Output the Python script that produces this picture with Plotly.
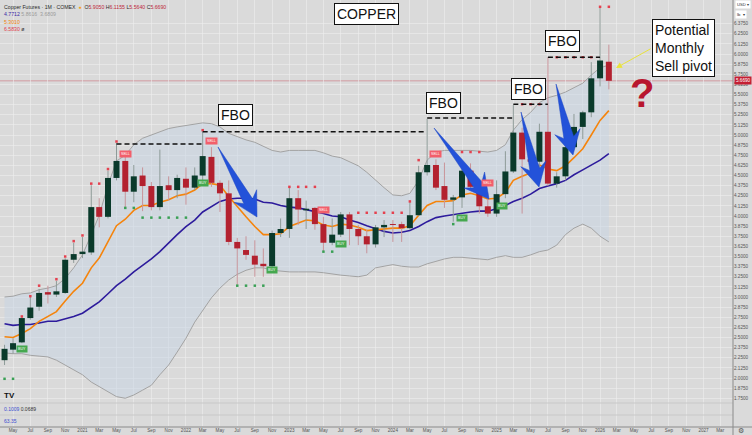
import math
import pandas as pd
import plotly.graph_objects as go

# ---------------- data (monthly COMEX copper) ----------------
months = pd.date_range("2020-04-01", "2026-02-01", freq="MS")

opens = [2.22, 2.35, 2.44, 2.74, 2.88, 3.06, 3.03, 3.05, 3.46,
         3.53, 3.55, 4.11, 3.99, 4.47, 4.68, 4.30, 4.50, 4.37, 4.11, 4.38, 4.32,
         4.46, 4.35, 4.50, 4.73, 4.41, 4.28, 3.68, 3.58, 3.51, 3.41, 3.38, 3.79,
         3.84, 4.22, 4.07, 4.10, 3.90, 3.67, 3.77, 4.02, 3.84, 3.75, 3.65, 3.86,
         3.90, 3.90, 3.85, 4.01, 4.54, 4.63, 4.37, 4.20, 4.23, 4.56, 4.36, 4.12,
         4.03, 4.27, 4.55, 5.03, 4.70, 4.67, 5.04, 4.40, 4.49, 4.85, 5.10, 5.28,
         5.70, 5.905]
highs = [2.41, 2.49, 2.75, 3.00, 3.10, 3.14, 3.20, 3.48, 3.67,
         3.74, 4.38, 4.22, 4.56, 4.90, 4.73, 4.63, 4.60, 4.42, 4.82, 4.49, 4.51,
         4.60, 4.60, 5.04, 4.85, 4.44, 4.44, 3.73, 3.75, 3.70, 3.60, 3.82, 3.97,
         4.37, 4.32, 4.19, 4.11, 3.99, 3.97, 4.05, 4.05, 3.89, 3.83, 3.89, 3.95,
         3.95, 3.93, 4.17, 4.62, 5.20, 4.70, 4.66, 4.26, 4.60, 4.65, 4.42, 4.29,
         4.44, 4.80, 5.37, 5.09, 4.90, 5.14, 5.96, 4.54, 4.98, 5.26, 5.30, 5.90,
         6.583, 6.1155]
lows = [2.16, 2.30, 2.43, 2.72, 2.83, 2.92, 3.00, 3.04, 3.42,
        3.48, 3.52, 3.86, 3.97, 4.44, 4.10, 4.17, 4.06, 4.07, 4.07, 4.19, 4.22,
        4.14, 4.32, 4.41, 4.36, 4.05, 3.64, 3.15, 3.46, 3.25, 3.25, 3.35, 3.74,
        3.73, 3.89, 3.84, 3.83, 3.56, 3.64, 3.74, 3.64, 3.64, 3.54, 3.61, 3.74,
        3.68, 3.68, 3.83, 4.00, 4.50, 4.32, 4.10, 3.93, 4.10, 4.33, 4.03, 3.99,
        3.99, 4.22, 4.53, 4.03, 4.55, 4.57, 4.37, 4.35, 4.44, 4.82, 4.95, 5.22,
        5.60, 5.564]
closes = [2.36, 2.43, 2.74, 2.87, 3.05, 3.03, 3.07, 3.46, 3.53,
          3.56, 4.11, 3.99, 4.47, 4.68, 4.30, 4.49, 4.37, 4.11, 4.37, 4.32, 4.47,
          4.35, 4.50, 4.74, 4.41, 4.28, 3.68, 3.60, 3.52, 3.40, 3.38, 3.79, 3.84,
          4.22, 4.08, 4.09, 3.90, 3.67, 3.77, 4.02, 3.84, 3.75, 3.65, 3.86, 3.89,
          3.89, 3.85, 4.01, 4.54, 4.63, 4.35, 4.20, 4.23, 4.56, 4.36, 4.12, 4.03,
          4.27, 4.55, 5.03, 4.70, 4.67, 5.04, 4.40, 4.49, 4.85, 5.10, 5.28, 5.70,
          5.92, 5.669]

# Bollinger basis (purple), bands (grey) and fast average (orange)
bb_basis = [2.67, 2.65, 2.66, 2.66, 2.68, 2.70, 2.70, 2.73, 2.76,
            2.80, 2.87, 2.94, 3.04, 3.14, 3.22, 3.31, 3.39, 3.47, 3.56, 3.67, 3.77,
            3.87, 3.95, 4.05, 4.12, 4.18, 4.21, 4.22, 4.22, 4.21, 4.17, 4.16, 4.13,
            4.11, 4.10, 4.08, 4.05, 4.03, 4.00, 3.99, 3.95, 3.92, 3.88, 3.84, 3.81,
            3.79, 3.80, 3.82, 3.87, 3.93, 3.98, 4.00, 4.02, 4.04, 4.05, 4.06, 4.06,
            4.09, 4.13, 4.18, 4.22, 4.27, 4.34, 4.37, 4.40, 4.44, 4.51, 4.57, 4.63,
            4.69, 4.77]
bb_upper = [3.00, 3.01, 3.04, 3.05, 3.09, 3.11, 3.14, 3.23, 3.36,
            3.52, 3.77, 4.01, 4.38, 4.68, 4.75, 4.88, 4.96, 5.00, 5.04, 5.08, 5.10,
            5.12, 5.14, 5.15, 5.14, 5.10, 5.02, 4.98, 4.94, 4.91, 4.86, 4.81, 4.79,
            4.81, 4.81, 4.81, 4.81, 4.78, 4.74, 4.72, 4.67, 4.62, 4.54, 4.44, 4.35,
            4.26, 4.25, 4.28, 4.44, 4.69, 4.79, 4.81, 4.81, 4.81, 4.81, 4.80, 4.79,
            4.81, 4.88, 5.06, 5.19, 5.28, 5.40, 5.46, 5.49, 5.53, 5.58, 5.64, 5.74,
            5.83, 5.8616]
bb_lower = [2.31, 2.30, 2.30, 2.28, 2.27, 2.26, 2.22, 2.16, 2.10,
            2.04, 1.95, 1.89, 1.83, 1.77, 1.75, 1.79, 1.85, 1.91, 2.04, 2.16, 2.32,
            2.49, 2.69, 2.84, 2.99, 3.11, 3.21, 3.28, 3.33, 3.36, 3.36, 3.33, 3.32,
            3.31, 3.31, 3.31, 3.31, 3.30, 3.28, 3.27, 3.26, 3.25, 3.27, 3.36, 3.38,
            3.40, 3.38, 3.37, 3.37, 3.41, 3.44, 3.47, 3.49, 3.49, 3.48, 3.47, 3.46,
            3.49, 3.51, 3.49, 3.49, 3.52, 3.56, 3.58, 3.64, 3.77, 3.85, 3.90, 3.85,
            3.75, 3.6809]
ema_fast = [2.51, 2.50, 2.55, 2.61, 2.70, 2.76, 2.82, 2.95, 3.07,
            3.17, 3.36, 3.48, 3.68, 3.88, 3.96, 4.07, 4.13, 4.13, 4.17, 4.20, 4.25,
            4.27, 4.32, 4.40, 4.40, 4.38, 4.24, 4.11, 3.99, 3.87, 3.77, 3.77, 3.78,
            3.87, 3.91, 3.95, 3.94, 3.89, 3.87, 3.90, 3.89, 3.86, 3.82, 3.83, 3.84,
            3.85, 3.85, 3.88, 4.01, 4.13, 4.18, 4.18, 4.19, 4.26, 4.28, 4.25, 4.21,
            4.22, 4.29, 4.44, 4.49, 4.53, 4.63, 4.58, 4.56, 4.62, 4.72, 4.83, 5.00,
            5.18, 5.301]

# resistance (red) / support (green) dots
red_dot_months = ["2020-06", "2020-07", "2020-08", "2020-10", "2020-11", "2020-12", "2021-01",
                  "2021-02", "2021-03", "2021-04", "2021-05", "2022-03",
                  "2023-01", "2023-02", "2023-03", "2023-04",
                  "2023-09", "2023-10", "2023-11", "2023-12", "2024-01", "2024-02",
                  "2024-03", "2024-04", "2024-09", "2024-10", "2024-11",
                  "2025-04", "2025-05", "2025-06",
                  "2025-08", "2025-09", "2025-10", "2025-11", "2025-12", "2026-01", "2026-02"]
red_dot_prices = [2.76, 3.01, 3.14, 3.22, 3.50, 3.69, 3.76,
                  4.40, 4.40, 4.58, 4.92, 5.06,
                  4.36, 4.36, 4.36, 4.36,
                  4.04, 4.04, 4.04, 4.04, 4.04, 4.04,
                  4.18, 4.69, 4.79, 4.79, 4.79,
                  5.38, 5.38, 5.38,
                  5.96, 5.96, 5.96, 5.96, 5.96, 6.583, 6.583]
green_dot_months = ["2020-04", "2020-05", "2021-06", "2021-07", "2021-08", "2021-09", "2021-10",
                    "2021-11", "2021-12", "2022-01", "2022-07", "2022-08", "2022-09", "2022-10",
                    "2023-05", "2023-06", "2024-08"]
green_dot_prices = [1.99, 1.99, 4.10, 4.10, 3.98, 3.98, 3.98,
                    3.98, 3.98, 3.98, 3.14, 3.14, 3.14, 3.14,
                    3.56, 3.56, 3.90]

# BUY / SELL signal badges
signal_kind = ["BUY", "SELL", "BUY", "SELL", "BUY", "SELL", "BUY", "SELL", "BUY", "SELL", "BUY"]
signal_month = ["2020-06-01", "2021-06-01", "2022-03-01", "2022-04-01", "2022-11-01", "2023-05-01",
                "2023-07-01", "2024-06-01", "2024-09-01", "2024-12-01", "2025-01-20"]
signal_price = [2.36, 4.77, 4.41, 4.93, 3.33, 4.08, 3.66, 4.77, 3.98, 4.41, 4.12]

# False-breakout levels (drawn dashed)
fbo_start = ["2021-05-01", "2022-03-01", "2024-05-01", "2025-03-01", "2025-07-01"]
fbo_end = ["2022-03-01", "2024-04-20", "2025-03-01", "2025-07-01", "2026-01-01"]
fbo_level = [4.89, 5.04, 5.21, 5.38, 5.96]

price_ticks = [1.75 + 0.125 * i for i in range(38)]
tick_dates = pd.date_range("2020-05-01", "2027-03-01", freq="2MS")
tick_text = ["May", "Jul", "Sep", "Nov", "2021", "Mar", "May", "Jul", "Sep", "Nov",
             "2022", "Mar", "May", "Jul", "Sep", "Nov", "2023", "Mar", "May", "Jul", "Sep", "Nov",
             "2024", "Mar", "May", "Jul", "Sep", "Nov", "2025", "Mar", "May", "Jul", "Sep", "Nov",
             "2026", "Mar", "May", "Jul", "Sep", "Nov", "2027", "Mar"]

last_price = 5.669

# ---------------- layout helpers ----------------
W, H = 752, 435
ML, MR, MT, MB = 0, 19, 0, 9
PW, PH = W - ML - MR, H - MT - MB
Y_TOP = 6.667
Y_BOT = 6.0 - (PH - 54) / 81.0


def px(x):
    return x / PW


def py(y):
    return 1 - y / PH


UP = "#0a3a2b"
DOWN = "#b3212f"
BG = "#dadada"
lf = "Liberation Sans"

fig = go.Figure()

# Bollinger band fill
fig.add_trace(go.Scatter(x=months, y=bb_upper, mode="lines",
                         line=dict(color="#a3a3a3", width=1), hoverinfo="skip"))
fig.add_trace(go.Scatter(x=months, y=bb_lower, mode="lines",
                         line=dict(color="#a3a3a3", width=1), fill="tonexty",
                         fillcolor="rgba(200,214,228,0.55)", hoverinfo="skip"))
fig.add_trace(go.Scatter(x=months, y=bb_basis, mode="lines",
                         line=dict(color="#2d1b9c", width=1.6), hoverinfo="skip"))
fig.add_trace(go.Scatter(x=months, y=ema_fast, mode="lines",
                         line=dict(color="#f5840c", width=1.6), hoverinfo="skip"))

# candles: wick (high-low) then body (open-close) as line segments, per direction
for up in (True, False):
    wx, wy, bx, by = [], [], [], []
    for m, o, h, l, c in zip(months, opens, highs, lows, closes):
        if (c >= o) == up:
            wx += [m, m, None]
            wy += [l, h, None]
            lo_b, hi_b = min(o, c), max(o, c)
            if hi_b - lo_b < 0.012:
                mid = (hi_b + lo_b) / 2
                lo_b, hi_b = mid - 0.006, mid + 0.006
            bx += [m, m, None]
            by += [lo_b, hi_b, None]
    fig.add_trace(go.Scatter(x=wx, y=wy, mode="lines", hoverinfo="skip",
                             line=dict(color="#8e9b98" if up else "#c8949a", width=1)))
    fig.add_trace(go.Scatter(x=bx, y=by, mode="lines", hoverinfo="skip",
                             line=dict(color=UP if up else DOWN, width=6)))

fig.add_trace(go.Scatter(x=[m + "-01" for m in red_dot_months], y=red_dot_prices, mode="markers",
                         marker=dict(symbol="square", size=2.5, color="#e5414f"), hoverinfo="skip"))
fig.add_trace(go.Scatter(x=[m + "-01" for m in green_dot_months], y=green_dot_prices, mode="markers",
                         marker=dict(symbol="square", size=2.5, color="#3aa055"), hoverinfo="skip"))

shapes = []
annotations = []

# last price line
shapes.append(dict(type="line", xref="paper", yref="y", x0=0, x1=1, y0=last_price, y1=last_price,
                   line=dict(color="rgba(205,80,95,0.45)", width=1), layer="below"))

# FBO dashed levels
for s, e, lv in zip(fbo_start, fbo_end, fbo_level):
    shapes.append(dict(type="line", xref="x", yref="y", x0=s, x1=e, y0=lv, y1=lv,
                       line=dict(color="#111111", width=1.6, dash="5px,3px")))


# blue arrows (drawings)
def arrow_path(x0, y0, x1, y1, shaft=10, head=26, headlen=24):
    dx, dy = x1 - x0, y1 - y0
    L = math.hypot(dx, dy)
    ux, uy = dx / L, dy / L
    nx, ny = -uy, ux
    bx, by = x1 - ux * headlen, y1 - uy * headlen
    sx, sy = bx + ux * 6, by + uy * 6
    pts = [(x0, y0),
           (sx + nx * shaft / 2, sy + ny * shaft / 2),
           (bx + nx * head / 2, by + ny * head / 2),
           (x1, y1),
           (bx - nx * head / 2, by - ny * head / 2),
           (sx - nx * shaft / 2, sy - ny * shaft / 2)]
    return "M " + " L ".join(f"{px(a):.5f},{py(b):.5f}" for a, b in pts) + " Z"


for (a, b, c, d) in [(218, 147, 257, 217), (434, 128, 489, 199), (521, 112, 539, 187), (556, 84, 573, 155)]:
    shapes.append(dict(type="path", xref="paper", yref="paper", path=arrow_path(a, b, c, d),
                       fillcolor="#2352d9", line=dict(color="#1c46c4", width=0.5)))

# pane separators (collapsed indicator panes) and bottom axis border
for yy in [403, 415]:
    shapes.append(dict(type="line", xref="paper", yref="paper", x0=0, x1=1, y0=py(yy), y1=py(yy),
                       line=dict(color="#c8c8c8", width=1)))
shapes.append(dict(type="line", xref="paper", yref="paper", x0=0, x1=1 + 19 / PW, y0=py(427), y1=py(427),
                   line=dict(color="#8a8a8a", width=1)))
shapes.append(dict(type="line", xref="paper", yref="paper", x0=1, x1=1, y0=py(435), y1=1,
                   line=dict(color="#8a8a8a", width=1)))

# signal badges
for k, m, p in zip(signal_kind, signal_month, signal_price):
    annotations.append(dict(x=m, y=p, xref="x", yref="y", text=k, showarrow=False,
                            font=dict(size=3.6, color="white", family=lf),
                            bgcolor="#f25f6b" if k == "SELL" else "#45a84f", borderpad=1))


def box(text, x, y, size=14, align="center"):
    annotations.append(dict(x=px(x), y=py(y), xref="paper", yref="paper", text=text, showarrow=False,
                            font=dict(size=size, color="#111111", family=lf),
                            bgcolor="white", bordercolor="#111111", borderwidth=1, borderpad=2,
                            align=align, xanchor="center", yanchor="middle"))


box("COPPER", 366, 14)
box("FBO", 235, 115)
box("FBO", 443, 103)
box("FBO", 528, 89)
box("FBO", 562, 41)
box("Potential<br>Monthly<br>Sell pivot", 683, 48, size=14, align="left")

annotations.append(dict(x=px(642), y=py(93), xref="paper", yref="paper", text="<b>?</b>", showarrow=False,
                        font=dict(size=40, color="#b8162e", family=lf),
                        xanchor="center", yanchor="middle"))
# yellow pointer arrow
annotations.append(dict(x=px(616), y=py(68), xref="paper", yref="paper", text="", showarrow=True,
                        ax=36, ay=-20, arrowhead=2, arrowsize=1.2, arrowwidth=1,
                        arrowcolor="#e9e23c"))

# legend lines (top-left)
annotations.append(dict(x=px(2), y=py(7), xref="paper", yref="paper", showarrow=False,
                        xanchor="left", yanchor="middle", font=dict(size=5.2, family=lf, color="#2a2a2a"),
                        text="Copper Futures · 1M · COMEX  <span style='color:#f5a31a'>●</span>  "
                             "O<span style='color:#c0283a'>5.9050</span> H<span style='color:#c0283a'>6.1155</span> "
                             "L<span style='color:#c0283a'>5.5640</span> C<span style='color:#c0283a'>5.6690</span>"))
annotations.append(dict(x=px(2), y=py(14.5), xref="paper", yref="paper", showarrow=False,
                        xanchor="left", yanchor="middle", font=dict(size=5.2, family=lf, color="#3b2aa6"),
                        text="4.7712 <span style='color:#9a9a9a'>5.8616  3.6809</span>"))
annotations.append(dict(x=px(2), y=py(21.5), xref="paper", yref="paper", showarrow=False,
                        xanchor="left", yanchor="middle", font=dict(size=5.2, family=lf, color="#f0820c"),
                        text="5.3010"))
annotations.append(dict(x=px(2), y=py(29), xref="paper", yref="paper", showarrow=False,
                        xanchor="left", yanchor="middle", font=dict(size=5.2, family=lf, color="#e0404e"),
                        text="6.5830 <span style='color:#333'>ø</span>"))
# collapsed panes values
annotations.append(dict(x=px(2), y=py(409), xref="paper", yref="paper", showarrow=False,
                        xanchor="left", yanchor="middle", font=dict(size=5, family=lf, color="#3d4fd0"),
                        text="0.1009 <span style='color:#333'>0.0689</span>"))
annotations.append(dict(x=px(2), y=py(421), xref="paper", yref="paper", showarrow=False,
                        xanchor="left", yanchor="middle", font=dict(size=5, family=lf, color="#3d4fd0"),
                        text="63.35"))
annotations.append(dict(x=px(9), y=py(395), xref="paper", yref="paper", showarrow=False,
                        xanchor="center", yanchor="middle", font=dict(size=8, family=lf, color="#111"),
                        text="<b>TV</b>"))
# price scale: last price tag and unit selectors
annotations.append(dict(x=1.002, y=last_price, xref="paper", yref="y", showarrow=False,
                        xanchor="left", yanchor="middle", font=dict(size=4.6, family=lf, color="white"),
                        text="5.6690", bgcolor="#c41f33", borderpad=1))
annotations.append(dict(x=1.003, y=py(5), xref="paper", yref="paper", showarrow=False,
                        xanchor="left", yanchor="middle", font=dict(size=4.2, family=lf, color="#333"),
                        text="USD ▾", bgcolor="white", borderpad=1))
annotations.append(dict(x=1.003, y=py(14.5), xref="paper", yref="paper", showarrow=False,
                        xanchor="left", yanchor="middle", font=dict(size=4.2, family=lf, color="#333"),
                        text="lb  ▾", bgcolor="white", borderpad=1))
annotations.append(dict(x=1.004, y=py(431), xref="paper", yref="paper", showarrow=False,
                        xanchor="left", yanchor="middle", font=dict(size=7, family="DejaVu Sans", color="#555"),
                        text="⚙"))

fig.update_layout(
    width=W, height=H,
    margin=dict(l=ML, r=MR, t=MT, b=MB),
    paper_bgcolor=BG, plot_bgcolor=BG,
    showlegend=False,
    shapes=shapes, annotations=annotations,
    xaxis=dict(type="date", range=["2020-03-16", "2027-04-15"],
               tickvals=list(tick_dates), ticktext=tick_text, showgrid=True,
               gridcolor="rgba(238,238,238,0.6)", gridwidth=1, showline=False,
               ticks="", tickfont=dict(size=4.6, color="#555", family=lf), zeroline=False,
               automargin=False, fixedrange=True),
    yaxis=dict(side="right", range=[Y_BOT, Y_TOP], tickvals=price_ticks,
               ticktext=[f"{v:.4f}" for v in price_ticks], showgrid=True,
               gridcolor="rgba(238,238,238,0.6)", gridwidth=1, ticks="", zeroline=False,
               tickfont=dict(size=4.6, color="#555", family=lf), automargin=False, fixedrange=True),
)

fig.write_html("out.html", config={"displayModeBar": False, "staticPlot": True},
               post_script="document.body.style.margin='0px';")
